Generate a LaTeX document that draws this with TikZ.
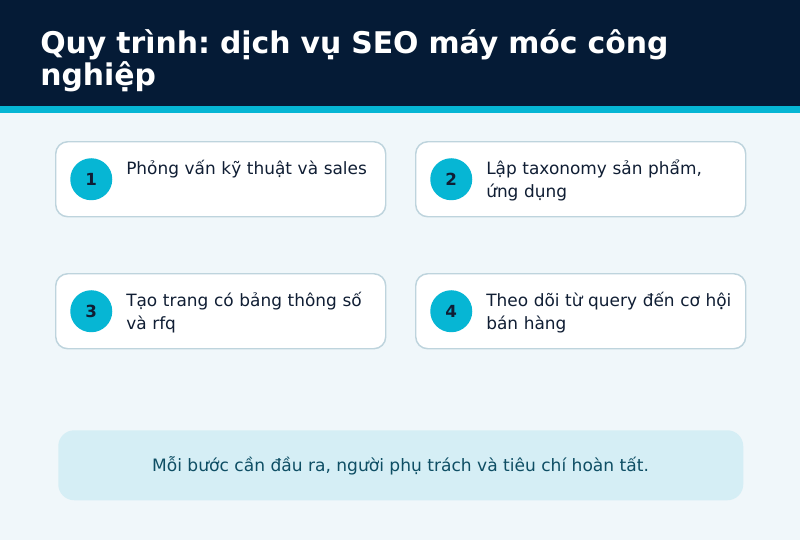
\documentclass[tikz,border=0pt]{standalone}
\usepackage{fontspec}
\setmainfont{DejaVu Sans}
\usetikzlibrary{positioning}
\frenchspacing
\definecolor{headbg}{RGB}{5,27,54}
\definecolor{accent}{RGB}{6,182,212}
\definecolor{pagebg}{RGB}{240,247,250}
\definecolor{cardline}{RGB}{190,212,221}
\definecolor{ink}{RGB}{16,30,52}
\definecolor{notebg}{RGB}{213,238,245}
\definecolor{noteink}{RGB}{14,78,100}
% one step card: name, left x, top y, number, text
\newcommand\stepcard[5]{
  \node[card, anchor=north west] (#1) at (#2,#3) {};
  \node[numdot, right=11.25pt of #1.west, anchor=west] (#1n) {#4};
  \node[steptext, anchor=base west] (#1t) at ([xshift=53.25pt,yshift=-24.75pt]#1.north west) {#5};
}

\begin{document}
\begin{tikzpicture}[x=0.75pt,y=-0.75pt,
    card/.style={draw=cardline, line width=1.1pt, fill=white, rounded corners=9pt,
                 minimum width=247.5pt, minimum height=56.25pt, inner sep=0pt},
    numdot/.style={circle, fill=accent, minimum size=31.5pt, inner sep=0pt,
                   font={\fontsize{12.5pt}{14pt}\selectfont\bfseries}, text=ink},
    steptext/.style={inner sep=0pt, text width=220pt, align=left, text=ink,
                     font={\fontsize{12.7pt}{17.25pt}\selectfont}},
    title/.style={inner sep=0pt, text width=580pt, align=left, text=white,
                  font={\fontsize{22.4pt}{24.5pt}\selectfont\bfseries}},
    note/.style={fill=notebg, rounded corners=12pt, minimum width=513.75pt,
                 minimum height=52.5pt, inner sep=0pt},
    notetext/.style={inner sep=0pt, text=noteink, font={\fontsize{12.8pt}{14pt}\selectfont}},]

    \fill[pagebg] (0,0) rectangle (800,540);
    \useasboundingbox (0,0) rectangle (800,540);

    % header
    \fill[headbg] (0,0) rectangle (800,106);
    \fill[accent] (0,106) rectangle (800,112.5);
    \node[title, anchor=base west] (head) at (40,53) {Quy trình: dịch vụ SEO máy móc công\\nghiệp};

    % steps
    \stepcard{s1}{55}{141}{1}{Phỏng vấn kỹ thuật và sales}
    \stepcard{s2}{415}{141}{2}{Lập taxonomy sản phẩm,\\ứng dụng}
    \stepcard{s3}{55}{273}{3}{Tạo trang có bảng thông số\\và rfq}
    \stepcard{s4}{415}{273}{4}{Theo dõi từ query đến cơ hội\\bán hàng}

    % footer note
    \node[note, anchor=north west] (note) at (58,430) {};
    \node[notetext, anchor=base] (notet) at (400.5,471) {Mỗi bước cần đầu ra, người phụ trách và tiêu chí hoàn tất.};

\end{tikzpicture}
\end{document}
